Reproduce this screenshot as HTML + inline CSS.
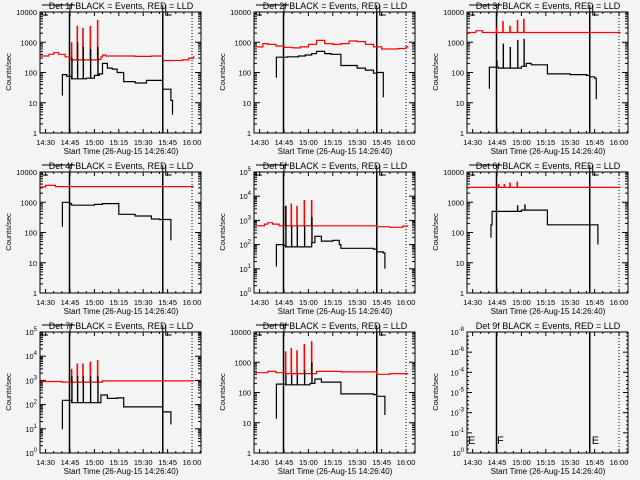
<!DOCTYPE html>
<html><head><meta charset="utf-8"><style>
html,body{margin:0;padding:0;background:#f4f4f4;}
svg{display:block;font-family:"Liberation Sans",sans-serif;}
</style></head><body>
<svg id="c" width="640" height="480" viewBox="0 0 640 480"></svg>
<script>
// per-panel data: times in minutes after 14:30, values in counts/sec
const spikeTimes = [16, 19.5, 23, 27.5, 32];
const p1BlackT = [10,10.3,13,16,20,25,30,33,35,38,41,44,48,55,62,68,72];
const p1BlackV = [18,85,75,62,62,65,80,90,200,140,130,100,50,45,55,55,50];
const p1Black2T = [72.3,76,77,78];
const p1Black2V = [28,28,12,4];
const p1RedT = [-3,2,5,8,12,15,16,32,34,35,37,45,55,65,72];
const p1RedV = [350,400,450,400,330,300,260,270,330,380,350,350,340,350,340];
const p1Red2T = [72.5,78,84,88,91];
const p1Red2V = [250,250,260,300,350];
const p1RedSpk = [1000,3500,3000,3500,5500];
const p1BlackSpk = [300,1000,700,600,700];

const p2BlackT = [10,10.3,16,17,20,24,28,32,35,40,44,45,50,55,60,65,70,72,75,76];
const p2BlackV = [70,320,320,330,330,350,380,420,500,420,400,400,170,170,140,120,95,100,100,15];
const p2RedT = [-3,2,5,10,15,20,25,30,35,40,45,50,55,60,65,70,75,80,85,90,91];
const p2RedV = [700,900,850,750,680,650,700,850,1150,900,850,900,1100,1050,850,700,600,600,620,700,750];

const p3SpkT = [14.8,18.7,23,27.6,31.5];
const p3BlackT = [10,10.3,16,30,33,36,44,46,60,70,72,75,76];
const p3BlackV = [30,150,140,160,200,180,180,90,85,80,72,65,13];
const p3RedT = [-3,2,6,91];
const p3RedV = [2100,2400,2100,2100];
const p3RedSpk = [3000,5000,3500,5500,6000];
const p3BlackSpk = [250,900,700,1200,1300];

const p4BlackT = [10,10.3,15,16,30,35,45,55,65,70,76,77];
const p4BlackV = [160,1000,900,800,850,900,400,350,280,270,270,55];
const p4RedT = [-3,0,5,6,91];
const p4RedV = [3200,3600,3600,3300,3300];

const p5BlackT = [10,10.3,15,16,32,34,38,45,49,50,65,70,72,76,77];
const p5BlackV = [13,100,90,80,120,220,140,150,100,70,70,65,50,45,10];
const p5RedT = [-3,3,5,8,12,20,40,60,72,80,88,91];
const p5RedV = [600,700,800,700,600,600,600,600,550,520,580,620];
const p5RedSpk = [4000,5000,4000,7000,7000];
const p5BlackSpk = [4000,600,600,600,1400];

const p6BlackT = [11,11.3,12,30,46,72,76,77];
const p6BlackV = [70,180,500,550,180,180,180,40];
const p6RedT = [-3,91];
const p6RedV = [3100,3100];
const p6RedSpk = [4000,4000,4500,4800,3100];
const p6BlackSpk = [500,500,500,800,850];

const p7BlackT = [10,10.3,16,33,34,38,44,48,72,76,77];
const p7BlackV = [10,150,120,120,250,180,190,80,50,50,15];
const p7RedT = [-3,10,16,32,35,91];
const p7RedV = [900,850,850,850,950,900];
const p7RedSpk = [3000,5000,5000,6000,7000];
const p7BlackSpk = [1500,1500,1500,1500,1500];

const p8BlackT = [10,10.3,16,31,34,38,48,50,65,70,72,76,77];
const p8BlackV = [14,190,180,200,280,220,220,90,90,85,75,75,18];
const p8RedT = [-3,5,10,16,32,35,50,72,80,91];
const p8RedV = [450,500,450,420,420,500,480,400,420,430];
const p8RedSpk = [2300,3000,2500,4000,5000];
const p8BlackSpk = [400,400,400,550,1000];

const xTickLabels = ["14:30","14:45","15:00","15:15","15:30","15:45","16:00"];
const xTickMins = [0,15,30,45,60,75,90];

const NS='http://www.w3.org/2000/svg';
const svg=document.getElementById('c');
function el(tag,attrs,parent){const e=document.createElementNS(NS,tag);for(const k in attrs)e.setAttribute(k,attrs[k]);(parent||svg).appendChild(e);return e;}

const panels=[
 {n:'1f',lmin:0,lmax:4,sup:false,blk:[[p1BlackT,p1BlackV],[p1Black2T,p1Black2V]],red:[[p1RedT,p1RedV],[p1Red2T,p1Red2V]],st:spikeTimes,rs:p1RedSpk,bs:p1BlackSpk},
 {n:'2f',lmin:0,lmax:4,sup:false,blk:[[p2BlackT,p2BlackV]],red:[[p2RedT,p2RedV]],st:null},
 {n:'3f',lmin:0,lmax:4,sup:false,blk:[[p3BlackT,p3BlackV]],red:[[p3RedT,p3RedV]],st:p3SpkT,rs:p3RedSpk,bs:p3BlackSpk},
 {n:'4f',lmin:0,lmax:4,sup:false,blk:[[p4BlackT,p4BlackV]],red:[[p4RedT,p4RedV]],st:null},
 {n:'5f',lmin:0,lmax:5,sup:true,blk:[[p5BlackT,p5BlackV]],red:[[p5RedT,p5RedV]],st:spikeTimes,rs:p5RedSpk,bs:p5BlackSpk},
 {n:'6f',lmin:0,lmax:4,sup:false,blk:[[p6BlackT,p6BlackV]],red:[[p6RedT,p6RedV]],st:spikeTimes,rs:p6RedSpk,bs:p6BlackSpk},
 {n:'7f',lmin:0,lmax:5,sup:true,blk:[[p7BlackT,p7BlackV]],red:[[p7RedT,p7RedV]],st:spikeTimes,rs:p7RedSpk,bs:p7BlackSpk},
 {n:'8f',lmin:0,lmax:4,sup:false,blk:[[p8BlackT,p8BlackV]],red:[[p8RedT,p8RedV]],st:spikeTimes,rs:p8RedSpk,bs:p8BlackSpk},
 {n:'9f',special:true}
];
const colX=[0,214,427], rowY=[0,160,320];
const BX0=40,BX1=201,BY0=12,BY1=133;

panels.forEach((p,i)=>{
  const ox=colX[i%3], oy=rowY[Math.floor(i/3)];
  const g=el('g',{transform:`translate(${ox},${oy})`});
  
  
  const xs=t=>45.6+t*1.627;
  const lmin=p.special?0:p.lmin, lmax=p.special?6:p.lmax;
  const ys=v=>BY1-(Math.log10(v)-lmin)/(lmax-lmin)*(BY1-BY0);
  const tt=el('text',{x:121,y:9,'font-size':9,'text-anchor':'middle',fill:'#000'},g);
  tt.textContent='Det '+p.n+' BLACK = Events, RED = LLD';
  
  
  const bx=el('rect',{x:BX0,y:BY0,width:BX1-BX0,height:BY1-BY0,fill:'none',stroke:'#000','stroke-width':1},g);
  
  
  for(let m=-3;m<=95;m++){
    if(m%5!==0&&m%15!==0)continue;
    const x=xs(m); if(x<BX0||x>BX1)continue;
    const L=(m%15===0)?4:2;
    el('line',{x1:x,y1:BY1,x2:x,y2:BY1-L,stroke:'#000'},g);
    el('line',{x1:x,y1:BY0,x2:x,y2:BY0+L,stroke:'#000'},g);
  }
  xTickLabels.forEach((lab,k)=>{
    const t=el('text',{x:xs(xTickMins[k]),y:145,'font-size':7.5,'text-anchor':'middle'},g);
    t.textContent=lab;
    
    
  });
  const xt=el('text',{x:121,y:154,'font-size':8,'text-anchor':'middle'},g);
  xt.textContent='Start Time (26-Aug-15 14:26:40)';
  
  
  const yt=el('text',{x:0,y:0,'font-size':7.5,'text-anchor':'middle',transform:'translate(11,72) rotate(-90)'},g);
  yt.textContent='Counts/sec';
  
  
  if(!p.special){
    for(let d=lmin;d<=lmax;d++){
      const y=ys(Math.pow(10,d));
      el('line',{x1:BX0,y1:y,x2:BX0+6,y2:y,stroke:'#000'},g);
      el('line',{x1:BX1,y1:y,x2:BX1-6,y2:y,stroke:'#000'},g);
      let t;
      if(p.sup){
        t=el('text',{x:BX0-3,y:y+3,'font-size':7.5,'text-anchor':'end'},g);
        t.appendChild(document.createTextNode('10'));
        const s=el('tspan',{dy:-4,'font-size':6},t); s.textContent=String(d);
      } else {
        t=el('text',{x:BX0-3,y:y+3,'font-size':7.5,'text-anchor':'end'},g);
        t.textContent=String(Math.pow(10,d));
      }
      
      
      if(d<lmax)for(let k=2;k<=9;k++){
        const yy=ys(k*Math.pow(10,d));
        el('line',{x1:BX0,y1:yy,x2:BX0+3,y2:yy,stroke:'#000'},g);
        el('line',{x1:BX1,y1:yy,x2:BX1-3,y2:yy,stroke:'#000'},g);
      }
    }
  } else {
    const labs=['0','-1','-3','-5','-4','-6','-8'];
    labs.forEach((l,k)=>{
      const y=BY1-k*(BY1-BY0)/6;
      el('line',{x1:BX0,y1:y,x2:BX0+5,y2:y,stroke:'#000'},g);
      el('line',{x1:BX1,y1:y,x2:BX1-5,y2:y,stroke:'#000'},g);
      const t=el('text',{x:BX0-3,y:y+3,'font-size':7.5,'text-anchor':'end'},g);
      t.appendChild(document.createTextNode('10'));
      const s=el('tspan',{dy:-4,'font-size':6},t); s.textContent=l;
      
      
      for(let m=1;m<5;m++){const yy=y-m*4; if(k<6){el('line',{x1:BX0,y1:yy,x2:BX0+2,y2:yy,stroke:'#000'},g);el('line',{x1:BX1,y1:yy,x2:BX1-2,y2:yy,stroke:'#000'},g);}}
    });
  }
  const v1=el('line',{x1:xs(15)-0.5,y1:BY0,x2:xs(15)-0.5,y2:BY1,stroke:'#000','stroke-width':1.5},g);
  
  
  const v2=el('line',{x1:xs(72),y1:BY0,x2:xs(72),y2:BY1,stroke:'#000','stroke-width':1.5},g);
  
  
  const v3=el('line',{x1:xs(90),y1:BY0,x2:xs(90),y2:BY1,stroke:'#000','stroke-dasharray':'1,2'},g);
  
  
  if(!p.special){
    el('path',{d:`M${BX0+2} ${BY0+3}H${BX0+8}M${BX0+2} ${BY0}V${BY0+3}M${BX0+2} 5H${xs(15)}V${BY0}M${xs(15)} 5H${xs(15)+5}M${xs(72)} 5V${BY0}M${xs(72)+3} 5V${BY0+3}H${xs(72)+9}`,stroke:'#000',fill:'none'},g);
  } else {
    [[BX0+1],[xs(15)],[xs(72)+2]].forEach(([x],k)=>{
      const t=el('text',{x:x,y:BY1-9,'font-size':11},g);
      t.textContent=k===1?'F':'E';
      
      
    });
  }
  if(p.special)return;
  function stepPath(T,V){
    let d='';
    for(let k=0;k<T.length;k++){
      const x=xs(T[k]),y=ys(V[k]);
      if(k===0)d+=`M${x.toFixed(1)} ${y.toFixed(1)}`;
      else d+=`H${x.toFixed(1)}V${y.toFixed(1)}`;
    }
    return d;
  }
  function baseAt(T,V,t){let v=V[0];for(let k=0;k<T.length;k++)if(T[k]<=t)v=V[k];return v;}
  p.red.forEach(([T,V])=>{
    const pa=el('path',{d:stepPath(T,V),stroke:'#f00',fill:'none','stroke-width':1.2},g);
    
    
  });
  if(p.st){
    p.st.forEach((t,k)=>{
      const b=baseAt(p.red[0][0],p.red[0][1],t);
      const s=el('path',{d:`M${xs(t)} ${ys(b)}V${ys(p.rs[k])}`,stroke:'#f00',fill:'none','stroke-width':1.6},g);
      
      
    });
  }
  p.blk.forEach(([T,V])=>{
    const pa=el('path',{d:stepPath(T,V),stroke:'#000',fill:'none','stroke-width':1.2},g);
    
    
  });
  if(p.st){
    p.st.forEach((t,k)=>{
      const b=baseAt(p.blk[0][0],p.blk[0][1],t);
      const s=el('path',{d:`M${xs(t)+0.3} ${ys(b)}V${ys(p.bs[k])}`,stroke:'#000',fill:'none','stroke-width':1.4},g);
      
      
    });
  }
});
</script>
</body></html>
